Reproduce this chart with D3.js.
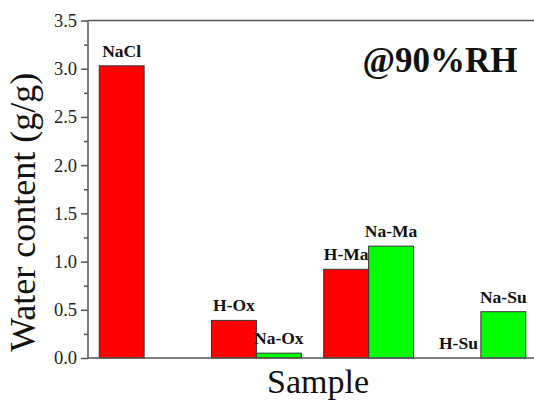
<!DOCTYPE html>
<html>
<head>
<meta charset="utf-8">
<script src="https://cdn.jsdelivr.net/npm/d3@7"></script>
<style>
  body { margin: 0; background: #fff; }
  svg { display: block; }
</style>
</head>
<body>
<svg id="chart" width="534" height="400"></svg>
<script>
// data
const groups = ["NaCl", "Ox", "Ma", "Su"];
const redLabels = ["NaCl", "H-Ox", "H-Ma", "H-Su"];
const redValues = [3.03, 0.39, 0.92, 0.0];
const greenLabels = [null, "Na-Ox", "Na-Ma", "Na-Su"];
const greenValues = [null, 0.05, 1.16, 0.48];
const yTicks = [0, 0.5, 1.0, 1.5, 2.0, 2.5, 3.0, 3.5];

const serif = "'Liberation Serif', 'Times New Roman', Tinos, serif";

const margin = { top: 20.5, left: 88, bottom: 42 };
const width = 449;
const height = 400 - margin.top - margin.bottom;

const svg = d3.select("#chart")
    .append("g")
    .attr("transform", `translate(${margin.left}, ${margin.top})`);

const xScale = d3.scaleBand()
    .domain(groups)
    .range([0, width])
    .paddingInner(0.2)
    .paddingOuter(0.1);

const xSub = d3.scaleBand()
    .domain(["red", "green"])
    .range([0, xScale.bandwidth()]);

const yScale = d3.scaleLinear()
    .domain([0, 3.5])
    .range([height, 0]);

const bars = [];
groups.forEach((g, i) => {
    bars.push({ g, s: "red", v: redValues[i], label: redLabels[i] });
    if (greenValues[i] !== null) {
        bars.push({ g, s: "green", v: greenValues[i], label: greenLabels[i] });
    }
});

const colors = { red: "#ff0000", green: "#00ff00" };

// barres
svg.selectAll("rect.bar")
    .data(bars.filter(d => d.v > 0))
    .enter()
    .append("rect")
    .attr("class", "bar")
    .attr("x", d => xScale(d.g) + xSub(d.s))
    .attr("y", d => yScale(d.v))
    .attr("width", xSub.bandwidth())
    .attr("height", d => height - yScale(d.v))
    .attr("fill", d => colors[d.s])
    .attr("stroke", "#333")
    .attr("stroke-width", 1);

// étiquettes au-dessus des barres
svg.selectAll("text.lbl")
    .data(bars)
    .enter()
    .append("text")
    .attr("class", "lbl")
    .attr("x", d => xScale(d.g) + xSub(d.s) + xSub.bandwidth() / 2)
    .attr("y", d => yScale(d.v) - 9)
    .style("text-anchor", "middle")
    .style("font-family", serif)
    .style("font-weight", "bold")
    .style("font-size", "17.5px")
    .attr("fill", "#111")
    .text(d => d.label);

// axe Y
const yAxis = d3.axisLeft(yScale)
    .tickValues(yTicks)
    .tickFormat(d3.format(".1f"))
    .tickSize(7)
    .tickPadding(4);

const yMinor = d3.axisLeft(yScale)
    .tickValues(yTicks.slice(0, -1).map(t => t + 0.25))
    .tickSize(4)
    .tickFormat("");

const yg = svg.append("g").attr("class", "y-axis").call(yAxis);
svg.append("g").attr("class", "y-minor").call(yMinor).select(".domain").remove();

yg.selectAll("text")
    .style("font-family", serif)
    .style("font-size", "18.5px")
    .attr("fill", "#222");

svg.selectAll(".y-axis line, .y-minor line, .y-axis path")
    .attr("stroke", "#555")
    .attr("stroke-width", 1.5);
yg.select(".domain").attr("d", `M0,${height}V0`);

// axe X et bord supérieur
svg.append("line")
    .attr("x1", 0).attr("x2", width)
    .attr("y1", height).attr("y2", height)
    .attr("stroke", "#555").attr("stroke-width", 1.5);
svg.append("line")
    .attr("x1", 0).attr("x2", width)
    .attr("y1", 0).attr("y2", 0)
    .attr("stroke", "#555").attr("stroke-width", 1.5);

// titres
svg.append("text")
    .attr("x", 230)
    .attr("y", height + 35)
    .style("text-anchor", "middle")
    .style("font-family", serif)
    .style("font-size", "34px")
    .attr("fill", "#111")
    .text("Sample");

svg.append("text")
    .attr("x", -(height / 2 + 23))
    .attr("y", -margin.left + 35)
    .style("text-anchor", "middle")
    .attr("transform", "rotate(-90)")
    .style("font-family", serif)
    .style("font-size", "36px")
    .attr("fill", "#111")
    .text("Water content (g/g)");

svg.append("text")
    .attr("x", 352)
    .attr("y", 51.5)
    .style("text-anchor", "middle")
    .style("font-family", serif)
    .style("font-weight", "bold")
    .style("font-size", "35px")
    .attr("fill", "#111")
    .text("@90%RH");
</script>
</body>
</html>
